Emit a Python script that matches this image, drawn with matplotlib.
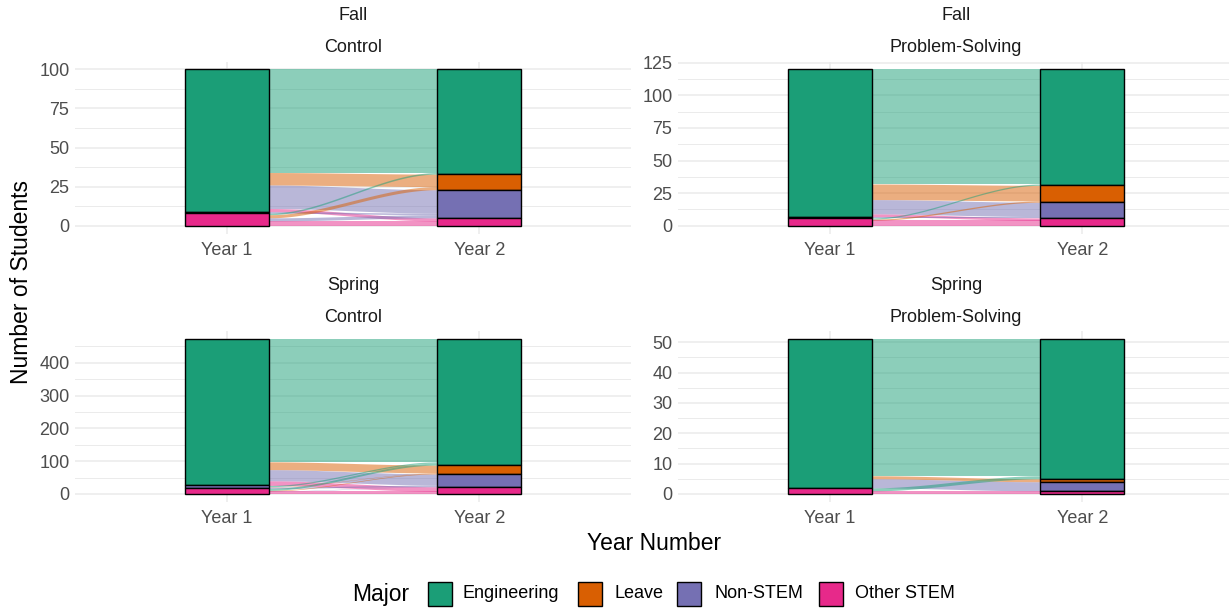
import numpy as np
import matplotlib
matplotlib.use("Agg")
import matplotlib.pyplot as plt
from matplotlib.patches import Rectangle
from matplotlib.ticker import MultipleLocator

plt.rcParams["font.family"] = ["Liberation Sans", "DejaVu Sans"]

# --- data -------------------------------------------------------------
majors = ["Engineering", "Leave", "Non-STEM", "Other STEM"]
major_colors = ["#1B9E77", "#D95F02", "#7570B3", "#E7298A"]
year_labels = ["Year 1", "Year 2"]

# students moving from Year 1 major (rows) to Year 2 major (cols)
fall_control = [[66, 8, 15, 2],
                [0, 0, 0, 0],
                [0, 0, 1, 0],
                [1, 2, 2, 3]]
fall_ps = [[88, 12, 11, 2],
           [0, 0, 0, 0],
           [0, 0, 1, 0],
           [1, 1, 0, 4]]
spring_control = [[374, 24, 34, 14],
                  [0, 0, 0, 0],
                  [4, 1, 4, 0],
                  [6, 2, 1, 8]]
spring_ps = [[45, 1, 3, 0],
             [0, 0, 0, 0],
             [0, 0, 0, 0],
             [1, 0, 0, 1]]

panels = [
    ("Fall", "Control", fall_control, 25),
    ("Fall", "Problem-Solving", fall_ps, 25),
    ("Spring", "Control", spring_control, 100),
    ("Spring", "Problem-Solving", spring_ps, 10),
]

W, H = 1229, 609
fig = plt.figure(figsize=(W / 100, H / 100), dpi=100)

# panel boxes in pixels: (left, top, width, height)
boxes = [(75, 61.5, 556, 172), (678, 61.5, 556, 172),
         (75, 331.4, 556, 170.3), (678, 331.4, 556, 170.3)]

tick_col = "#4D4D4D"
grid_col = "#EBEBEB"
bw = 1 / 3


def smooth(t):
    return 3 * t ** 2 - 2 * t ** 3


for (season, group, mat, step), (px, py, pw, ph) in zip(panels, boxes):
    m = np.array(mat, dtype=float)
    ax = fig.add_axes([px / W, 1 - (py + ph) / H, pw / W, ph / H])
    total = m.sum()
    ax.set_xlim(0.4, 2.6)
    ax.set_ylim(-0.05 * total, 1.05 * total)

    ax.yaxis.set_major_locator(MultipleLocator(step))
    ax.yaxis.set_minor_locator(MultipleLocator(step / 2))
    ax.grid(which="major", color=grid_col, lw=1.1, zorder=0)
    ax.grid(which="minor", axis="y", color=grid_col, lw=0.7, zorder=0)
    ax.set_axisbelow(True)
    ax.set_xticks([1, 2])
    ax.set_xticklabels(year_labels)
    ax.tick_params(which="both", length=0, labelsize=13, labelcolor=tick_col)
    ax.tick_params(axis="y", pad=4)
    ax.tick_params(axis="x", pad=6)
    for s in ax.spines.values():
        s.set_visible(False)

    n = len(majors)
    y1_tot = m.sum(axis=1)
    y2_tot = m.sum(axis=0)
    # strata stacked with first major on top
    y1_bot = np.zeros(n)
    y2_bot = np.zeros(n)
    acc1 = acc2 = 0.0
    for k in reversed(range(n)):
        y1_bot[k] = acc1
        acc1 += y1_tot[k]
        y2_bot[k] = acc2
        acc2 += y2_tot[k]

    # flow positions at each axis
    lo1 = np.zeros((n, n))
    lo2 = np.zeros((n, n))
    for i in range(n):
        acc = y1_bot[i]
        for j in reversed(range(n)):
            lo1[i, j] = acc
            acc += m[i, j]
    for j in range(n):
        acc = y2_bot[j]
        for i in reversed(range(n)):
            lo2[i, j] = acc
            acc += m[i, j]

    xs = np.linspace(1 + bw / 2, 2 - bw / 2, 120)
    t = smooth((xs - xs[0]) / (xs[-1] - xs[0]))
    for i in range(n):
        for j in range(n):
            if m[i, j] == 0:
                continue
            b = lo1[i, j] + (lo2[i, j] - lo1[i, j]) * t
            ax.fill_between(xs, b, b + m[i, j], color=major_colors[j],
                            alpha=0.5, lw=0, zorder=2)

    for k in range(n):
        if y1_tot[k] > 0:
            ax.bar(1, y1_tot[k], bottom=y1_bot[k], width=bw,
                   color=major_colors[k], edgecolor="black", lw=1, zorder=3)
        if y2_tot[k] > 0:
            ax.bar(2, y2_tot[k], bottom=y2_bot[k], width=bw,
                   color=major_colors[k], edgecolor="black", lw=1, zorder=3)

    cx = (px + pw / 2) / W
    fig.text(cx, 1 - (py - 45.5) / H, season, ha="center", va="center",
             fontsize=13, color="#1A1A1A")
    fig.text(cx, 1 - (py - 13.5) / H, group, ha="center", va="center",
             fontsize=13, color="#1A1A1A")

fig.text(654 / W, 1 - 543 / H, "Year Number", ha="center", va="center",
         fontsize=16.5)
fig.text(22 / W, 1 - 281.6 / H, "Number of Students", ha="center",
         va="center", rotation=90, fontsize=16.5)

# legend
ly = 1 - 594 / H
fig.text(352 / W, ly, "Major", ha="left", va="center", fontsize=16.5)
key_x = [428, 578, 677, 819]
text_x = [463, 614, 714, 855]
ks = 24
for name, col, kx, tx in zip(majors, major_colors, key_x, text_x):
    fig.add_artist(Rectangle((kx / W, (H - 594 - ks / 2) / H), ks / W, ks / H,
                             transform=fig.transFigure, facecolor=col,
                             edgecolor="black", lw=1))
    fig.text(tx / W, ly, name, ha="left", va="center", fontsize=13)

fig.savefig("out.png", dpi=100)
